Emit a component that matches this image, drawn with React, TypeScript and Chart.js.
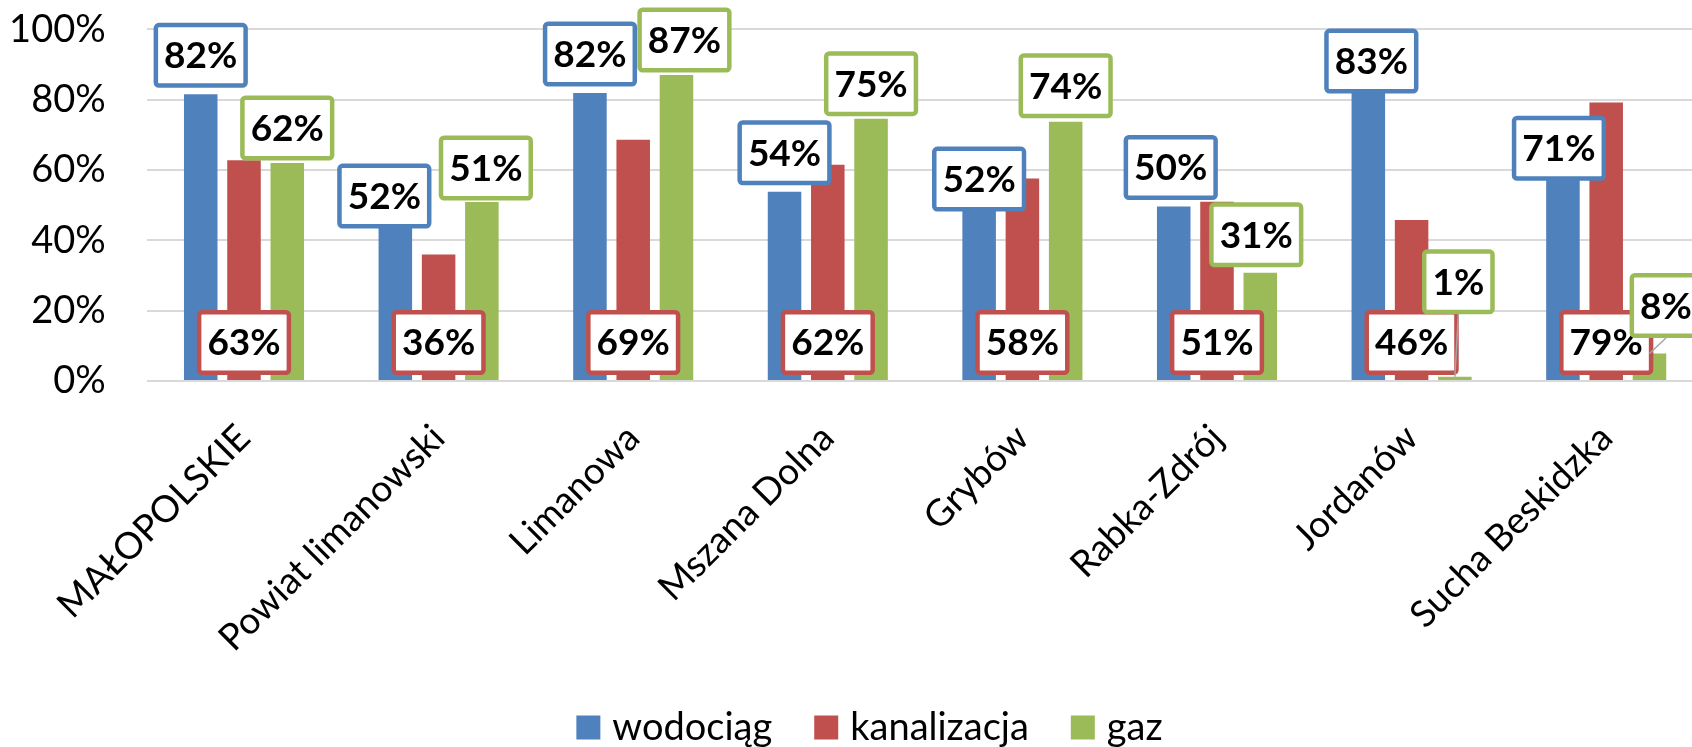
import React, { useEffect, useRef } from "react";
import { Chart, registerables } from "chart.js";

Chart.register(...registerables);

// ---------- data ----------
const categories = [
  "MAŁOPOLSKIE",
  "Powiat limanowski",
  "Limanowa",
  "Mszana Dolna",
  "Grybów",
  "Rabka-Zdrój",
  "Jordanów",
  "Sucha Beskidzka",
];
const wodociag = [81.5, 52, 81.9, 53.8, 52, 49.6, 83, 71];
const kanalizacja = [62.8, 36, 68.6, 61.5, 57.6, 51, 45.8, 79.2];
const gaz = [62, 50.9, 87, 74.6, 73.7, 30.8, 1.2, 7.8];
const yTickValues = [0, 20, 40, 60, 80, 100];
const seriesNames = ["wodociąg", "kanalizacja", "gaz"];

// ---------- styles / layout ----------
const seriesColors = ["#4F81BD", "#C0504D", "#9BBB59"];
const FONT = "Lato, 'Open Sans', sans-serif";
const CANVAS_W = 1739;
const CANVAS_H = 747;

// label placement: "end" = above bar top, "base" = at bar base
const labelAnchor = ["end", "base", "end"];
const labelGap = [6.5, 5, 2.5];
// manual nudges (px) of the data-label boxes, like dragged Excel labels
const labelNudge: number[][][] = [
  [[0, 0], [-11, 37], [0, 0], [0, 0], [0, 20], [-3, 0], [3, 11], [-4, 56]],
  [[0, 0], [0, 0], [0, 0], [0, 0], [0, 0], [0, 0], [0, 0], [0, 0]],
  [[0, 0], [4, 1], [8, 0], [0, 0], [0, -1], [-4, -3], [3.5, -60], [16.5, -13]],
];

const labelPlugin = {
  id: "boxLabels",
  afterDatasetsDraw(chart: any) {
    const ctx = chart.ctx;
    ctx.save();
    ctx.font = `bold 37px ${FONT}`;
    const boxH = 65;
    const lw = 4.5;
    chart.data.datasets.forEach((ds: any, i: number) => {
      const meta = chart.getDatasetMeta(i);
      meta.data.forEach((el: any, j: number) => {
        const { x, y, base } = el.getProps(["x", "y", "base"], true);
        const v = ds.data[j];
        const txt = Math.round(v) + "%";
        const tw = ctx.measureText(txt).width;
        const boxW = tw + 21;
        const [dx, dy] = labelNudge[i][j];
        const defBottom = labelAnchor[i] === "end" ? y - labelGap[i] : base - labelGap[i];
        const bottom = defBottom + dy;
        const cx = x + dx;
        const top = bottom - boxH;
        // leader line when label was moved away upward
        if (labelAnchor[i] === "end" && defBottom - bottom > 10) {
          ctx.beginPath();
          ctx.strokeStyle = "#A6A6A6";
          ctx.lineWidth = 1.5;
          ctx.moveTo(x, y);
          ctx.lineTo(cx, bottom);
          ctx.stroke();
        }
        const left = cx - boxW / 2;
        ctx.beginPath();
        if (ctx.roundRect) {
          ctx.roundRect(left + lw / 2, top + lw / 2, boxW - lw, boxH - lw, 3);
        } else {
          ctx.rect(left + lw / 2, top + lw / 2, boxW - lw, boxH - lw);
        }
        ctx.fillStyle = "#FFFFFF";
        ctx.fill();
        ctx.lineWidth = lw;
        ctx.strokeStyle = seriesColors[i];
        ctx.stroke();
        ctx.fillStyle = "#000000";
        ctx.textAlign = "center";
        ctx.textBaseline = "middle";
        ctx.fillText(txt, cx, top + boxH / 2 + 1);
      });
    });
    ctx.restore();
  },
};

const legendPlugin = {
  id: "bottomLegend",
  afterDraw(chart: any) {
    const ctx = chart.ctx;
    ctx.save();
    ctx.font = `38px ${FONT}`;
    const box = 24;
    const gapBoxText = 12;
    const gapItems = 42;
    const widths = seriesNames.map((n) => ctx.measureText(n).width);
    const total =
      widths.reduce((a, w) => a + box + gapBoxText + w, 0) + gapItems * (seriesNames.length - 1);
    let xPos = chart.width / 2 - total / 2;
    const cy = 727.5;
    seriesNames.forEach((n, i) => {
      ctx.fillStyle = seriesColors[i];
      ctx.fillRect(xPos, cy - box / 2, box, box);
      xPos += box + gapBoxText;
      ctx.fillStyle = "#000000";
      ctx.textAlign = "left";
      ctx.textBaseline = "middle";
      ctx.fillText(n, xPos, cy);
      xPos += widths[i] + gapItems;
    });
    ctx.restore();
  },
};

export default function App() {
  const canvasRef = useRef<HTMLCanvasElement | null>(null);

  useEffect(() => {
    document.body.style.margin = "0";
    let chart: Chart | null = null;
    let cancelled = false;
    const make = () => {
      if (cancelled || !canvasRef.current) return;
      const seriesData = [wodociag, kanalizacja, gaz];
      chart = new Chart(canvasRef.current, {
        type: "bar",
        data: {
          labels: categories,
          datasets: seriesData.map((d, i) => ({
            label: seriesNames[i],
            data: d,
            backgroundColor: seriesColors[i],
            borderWidth: 0,
            categoryPercentage: 0.667,
            barPercentage: 0.775,
          })),
        },
        options: {
          responsive: false,
          animation: false,
          devicePixelRatio: 1,
          layout: { padding: { top: 29.3, right: 35.5, left: 0, bottom: 0 } },
          plugins: {
            legend: { display: false },
            tooltip: { enabled: false },
          },
          scales: {
            x: {
              grid: { display: false, drawTicks: false },
              border: { display: false },
              ticks: {
                font: { family: FONT, size: 37 },
                color: "#000000",
                minRotation: 45,
                maxRotation: 45,
                padding: 35,
                autoSkip: false,
              },
              afterFit: (s: any) => {
                s.height = CANVAS_H - 381;
              },
            },
            y: {
              min: 0,
              max: 100,
              afterBuildTicks: (s: any) => {
                s.ticks = yTickValues.map((v) => ({ value: v }));
              },
              ticks: {
                callback: (v: any) => v + "%",
                font: { family: FONT, size: 38 },
                color: "#000000",
                padding: 41,
              },
              grid: { color: "#D9D9D9", lineWidth: 2, drawTicks: false },
              border: { display: false },
              afterFit: (s: any) => {
                s.width = 146.7;
                s.paddingTop = 0;
                s.paddingBottom = 0;
              },
            },
          },
        },
        plugins: [labelPlugin, legendPlugin],
      } as any);
    };
    const fontsApi: any = (document as any).fonts;
    if (fontsApi && fontsApi.load) {
      Promise.all([
        fontsApi.load(`36px Lato`),
        fontsApi.load(`bold 36px Lato`),
      ])
        .catch(() => null)
        .then(make);
    } else {
      make();
    }
    return () => {
      cancelled = true;
      if (chart) chart.destroy();
    };
  }, []);

  return (
    <div
      style={{
        position: "fixed",
        left: 0,
        top: 0,
        width: 1692,
        height: CANVAS_H,
        overflow: "hidden",
        background: "#FFFFFF",
      }}
    >
      <canvas
        ref={canvasRef}
        width={CANVAS_W}
        height={CANVAS_H}
        style={{ width: CANVAS_W, height: CANVAS_H, display: "block" }}
      />
    </div>
  );
}
